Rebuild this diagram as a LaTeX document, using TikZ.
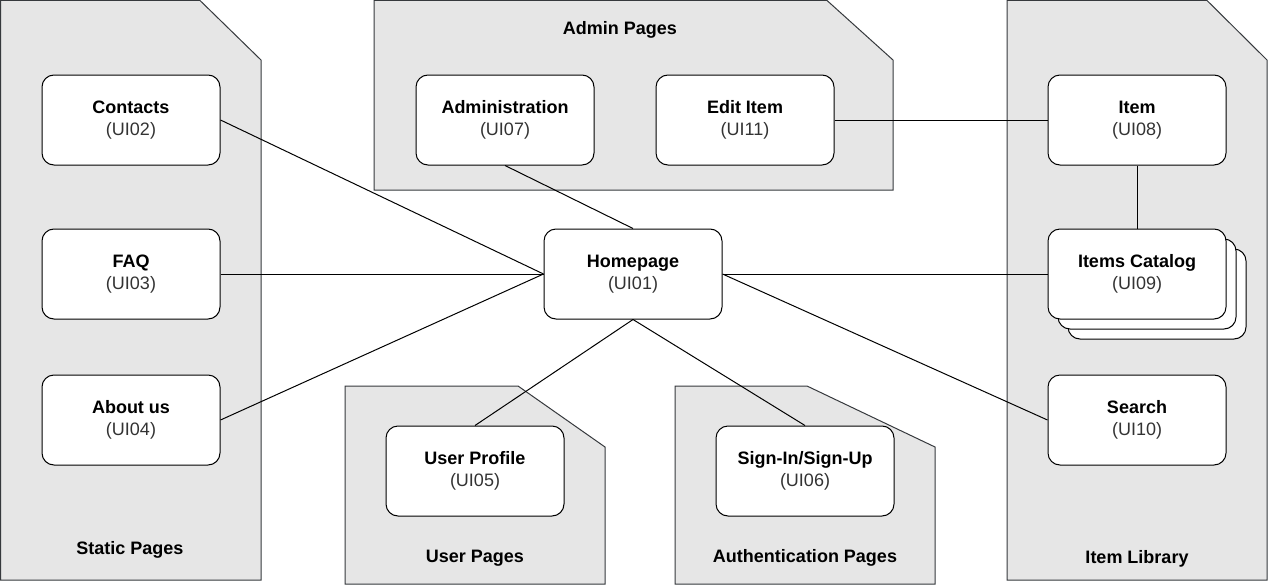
\documentclass[tikz,border=0pt]{standalone}
\usepackage{fontspec}
\setmainfont{Liberation Sans}
\usetikzlibrary{positioning}
\definecolor{folderfill}{HTML}{E6E6E6}
\definecolor{folderline}{HTML}{36393D}
\definecolor{idgrey}{HTML}{333333}
\newcommand{\uipage}[2]{\textbf{#1}\\{\color{idgrey}(#2)}}

\begin{document}
\begin{tikzpicture}[x=1pt,y=-1pt,
  folder/.style={fill=folderfill,draw=folderline,line width=1pt},
  uibox/.style={draw,fill=white,rounded corners=12pt,minimum width=178pt,minimum height=90pt,align=center,line width=1pt,font=\fontsize{18}{21.6}\selectfont},
  grouplabel/.style={font=\bfseries\fontsize{18}{21.6}\selectfont},
  link/.style={line width=1pt}]
\useasboundingbox (0,0) rectangle (1268,586);
% folders
\draw[folder] (0.5,0.5) -- (200,0.5) -- (261,60) -- (261,580) -- (0.5,580) -- cycle;
\draw[folder] (374,0.5) -- (827,0.5) -- (893,60) -- (893,190) -- (374,190) -- cycle;
\draw[folder] (1007,0.5) -- (1207,0.5) -- (1267,60) -- (1267,580) -- (1007,580) -- cycle;
\draw[folder] (345,386) -- (518,386) -- (605,447) -- (605,584) -- (345,584) -- cycle;
\draw[folder] (675,386) -- (807,386) -- (935,447) -- (935,584) -- (675,584) -- cycle;
\node[grouplabel] (staticlbl) at (130,550) {Static Pages};
\node[grouplabel] (adminlbl) at (620,30) {Admin Pages};
\node[grouplabel] (librarylbl) at (1137,559) {Item Library};
\node[grouplabel] (userlbl) at (475,558) {User Pages};
\node[grouplabel] (authlbl) at (805,558) {Authentication Pages};
% pages
\node[uibox] (contacts) at (131,120) {\uipage{Contacts}{UI02}};
\node[uibox] (faq) at (131,274) {\uipage{FAQ}{UI03}};
\node[uibox] (about) at (131,420) {\uipage{About us}{UI04}};
\node[uibox] (admin) at (505,120) {\uipage{Administration}{UI07}};
\node[uibox] (edit) at (745,120) {\uipage{Edit Item}{UI11}};
\node[uibox] (home) at (633,274) {\uipage{Homepage}{UI01}};
\node[uibox] (profile) at (475,471) {\uipage{User Profile}{UI05}};
\node[uibox] (sign) at (805,471) {\uipage{Sign-In/Sign-Up}{UI06}};
\node[uibox] (item) at (1137,120) {\uipage{Item}{UI08}};
\node[uibox] (catback) at (1157,294) {};
\node[uibox] (catmid) at (1147,284) {};
\node[uibox] (catalog) at (1137,274) {\uipage{Items Catalog}{UI09}};
\node[uibox] (search) at (1137,420) {\uipage{Search}{UI10}};
% links
\draw[link] (contacts.east) -- (home.west);
\draw[link] (faq.east) -- (home.west);
\draw[link] (about.east) -- (home.west);
\draw[link] (admin.south) -- (home.north);
\draw[link] (home.south) -- (profile.north);
\draw[link] (home.south) -- (sign.north);
\draw[link] (home.east) -- (catalog.west);
\draw[link] (home.east) -- (search.west);
\draw[link] (edit.east) -- (item.west);
\draw[link] (item.south) -- (catalog.north);
\end{tikzpicture}
\end{document}
